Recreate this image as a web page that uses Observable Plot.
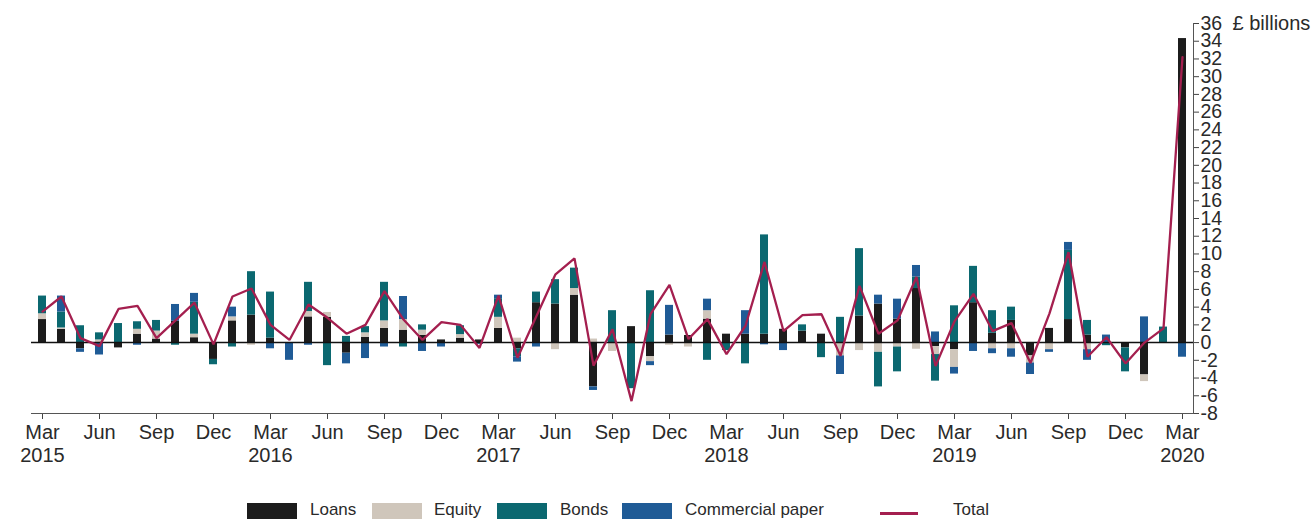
<!DOCTYPE html>
<html>
<head>
<meta charset="utf-8">
<script src="https://cdn.jsdelivr.net/npm/d3@7"></script>
<script src="https://cdn.jsdelivr.net/npm/@observablehq/plot@0.6"></script>
<style>
  html, body { margin: 0; padding: 0; background: #fff; }
  #wrap { position: relative; width: 1313px; height: 519px; overflow: hidden; font-family: "Liberation Sans", Arial, sans-serif; color: #2a2a2a; }
  #chart { position: absolute; left: 0; top: 0; }
  .lg { position: absolute; }
  .sw { width: 50px; height: 16px; top: 503px; }
  .lt { font-size: 17px; line-height: 17px; top: 501px; }
  .ln { height: 2.5px; width: 38px; top: 512px; }
</style>
</head>
<body>
<div id="wrap">
  <div id="chart"></div>
</div>
<script>
const months = [
  "2015-03","2015-04","2015-05","2015-06","2015-07","2015-08","2015-09","2015-10","2015-11","2015-12",
  "2016-01","2016-02","2016-03","2016-04","2016-05","2016-06","2016-07","2016-08","2016-09","2016-10","2016-11","2016-12",
  "2017-01","2017-02","2017-03","2017-04","2017-05","2017-06","2017-07","2017-08","2017-09","2017-10","2017-11","2017-12",
  "2018-01","2018-02","2018-03","2018-04","2018-05","2018-06","2018-07","2018-08","2018-09","2018-10","2018-11","2018-12",
  "2019-01","2019-02","2019-03","2019-04","2019-05","2019-06","2019-07","2019-08","2019-09","2019-10","2019-11","2019-12",
  "2020-01","2020-02","2020-03"
];

const loans = [
  2.6, 1.5, -0.7, 0, -0.6, 0.95, 0.4, 2.4, 0.55, -1.9,
  2.45, 3.1, 0.5, 0, 2.9, 2.85, -1.2, 0.6, 1.6, 1.4, 0.8, 0.3,
  0.5, 0.3, 1.6, -0.7, 4.5, 4.35, 5.35, -5.0, 0, 1.8, -1.6, 0.85,
  0.8, 2.65, 0.95, 0.95, 0.95, 1.5, 1.3, 0.95, 0, 3.0, 4.35, 2.65,
  6.1, -0.45, -0.8, 4.5, 1.05, 2.5, -1.5, 1.6, 2.6, 0.85, 0, -0.6,
  -3.65, 0, 34.3
];
const equity = [
  0.65, 0.15, 0, 0.3, 0, 0.55, 0.9, 0, 0.4, 0,
  0.45, -0.3, 0, 0, 0.6, 0.55, 0, 0.5, 0.85, 1.2, 0.6, 0,
  0.4, 0, 1.25, 0.5, 0, -0.8, 0.75, 0.4, -1.0, 0, -0.55, -0.3,
  -0.5, 0.95, 0, 0, 0, 0, 0, 0, -1.5, -0.9, -1.1, -0.5,
  -0.75, -0.9, -2.0, 0, -0.7, -0.7, -0.8, -0.8, 0, -0.8, 0, 0,
  -0.75, 0, 0
];
const bonds = [
  2.0, 1.8, 1.9, 0.8, 2.15, 0.85, 1.2, -0.3, 3.6, -0.6,
  -0.5, 4.9, 5.2, 0, 3.3, -2.6, 0.7, 0.7, 4.35, -0.5, 0.6, 0,
  1.0, 0, 2.1, -0.9, 1.2, 2.75, 2.3, 0, 3.6, -5.2, 5.85, 0,
  0, -2.0, -0.9, -2.4, 11.2, 0, 0.7, -1.7, 2.85, 7.6, -3.9, -2.8,
  1.3, -3.0, 4.15, 4.1, 2.55, 1.5, 0, 0, 7.8, 1.65, -0.35, -2.7,
  0, 1.75, 0
];
const commercialPaper = [
  0, 1.8, -0.4, -1.4, 0, -0.3, 0, 1.9, 1.0, 0,
  1.1, 0, -0.7, -2.0, -0.3, 0, -1.2, -1.8, -0.5, 2.6, -1.0, -0.5,
  0, -0.2, 0.4, -0.6, -0.5, 0, 0, -0.4, 0, 0, -0.45, 3.35,
  0, 1.3, 0, 2.65, -0.25, -0.9, 0, 0, -2.1, 0, 1.0, 2.25,
  1.3, 1.2, -0.75, -1.0, -0.55, -0.95, -1.3, -0.3, 0.9, -1.2, 0.85, 0,
  2.9, 0, -1.65
];
const total = [
  3.5, 5.2, 0.5, -0.4, 3.8, 4.15, 0.5, 2.5, 4.5, -0.2,
  5.2, 6.1, 2.0, 0.3, 4.3, 2.8, 1.0, 2.0, 5.8, 2.6, 0.3, 2.3,
  2.0, -0.6, 5.3, -1.7, 3.0, 7.7, 9.5, -2.6, 1.5, -6.6, 3.2, 6.5,
  0.4, 2.65, -1.3, 1.9, 9.1, 1.3, 3.1, 3.2, -1.5, 6.4, 1.0, 2.5,
  7.4, -2.65, 2.4, 5.5, 1.3, 2.2, -2.3, 3.3, 10.2, -1.6, 0.6, -2.35,
  0.0, 1.6, 32.2
];

const seriesNames = ["Loans", "Equity", "Bonds", "Commercial paper"];
const seriesColors = ["#1c1c1c", "#cfc6bb", "#0b6870", "#1f5b96"];
const totalColor = "#a41f4f";

const xTicks = ["2015-03","2015-06","2015-09","2015-12","2016-03","2016-06","2016-09","2016-12",
  "2017-03","2017-06","2017-09","2017-12","2018-03","2018-06","2018-09","2018-12",
  "2019-03","2019-06","2019-09","2019-12","2020-03"];
const xTickLabels = ["Mar\n2015","Jun","Sep","Dec","Mar\n2016","Jun","Sep","Dec",
  "Mar\n2017","Jun","Sep","Dec","Mar\n2018","Jun","Sep","Dec",
  "Mar\n2019","Jun","Sep","Dec","Mar\n2020"];
const yTicks = [-8,-6,-4,-2,0,2,4,6,8,10,12,14,16,18,20,22,24,26,28,30,32,34,36];

const seriesValues = [loans, equity, bonds, commercialPaper];
const stacked = months.flatMap((m, i) =>
  seriesNames.map((name, k) => ({month: m, type: name, value: seriesValues[k][i]})));
const totals = months.map((m, i) => ({month: m, total: total[i]}));
const labelOf = new Map(xTicks.map((t, i) => [t, xTickLabels[i]]));

const chart = Plot.plot({
  width: 1313,
  height: 482,
  marginLeft: 31,
  marginRight: 120,
  marginTop: 23,
  marginBottom: 69,
  style: {fontFamily: "'Liberation Sans', Arial, sans-serif", fontSize: "20px", color: "#2a2a2a", background: "white", overflow: "visible"},
  x: {type: "band", domain: months, paddingInner: 0.58, paddingOuter: 0, align: 0.5, label: null},
  y: {domain: [-8, 36], label: null},
  color: {domain: seriesNames, range: seriesColors},
  marks: [
    Plot.barY(stacked, {x: "month", y: "value", fill: "type"}),
    Plot.ruleY([0], {stroke: "#111", strokeWidth: 1.5}),
    Plot.lineY(totals, {x: "month", y: "total", stroke: totalColor, strokeWidth: 2.3, strokeLinejoin: "miter"}),
    Plot.axisX({ticks: xTicks, tickFormat: (d) => labelOf.get(d), tickSize: 6, tickPadding: 4, fontSize: 20, lineHeight: 1.12, stroke: "#444"}),
    Plot.axisY({anchor: "right", ticks: yTicks, tickFormat: (d) => String(d), tickSize: 5, tickPadding: 2, fontSize: 19.5, stroke: "#444"}),
    Plot.frame({anchor: "bottom", stroke: "#555"}),
    Plot.frame({anchor: "right", stroke: "#555"}),
    Plot.text(["£ billions"], {frameAnchor: "top-right", dx: 39, dy: 0, textAnchor: "start", lineAnchor: "middle", fontSize: 20})
  ]
});
document.getElementById("chart").appendChild(chart);

// Legend (HTML, below the SVG)
const wrap = document.getElementById("wrap");
const legendX = [[247, 310], [372, 434], [497, 560], [622, 685]];
seriesNames.forEach((name, k) => {
  const sw = document.createElement("div");
  sw.className = "lg sw";
  sw.style.left = legendX[k][0] + "px";
  sw.style.background = seriesColors[k];
  wrap.appendChild(sw);
  const t = document.createElement("div");
  t.className = "lg lt";
  t.style.left = legendX[k][1] + "px";
  t.textContent = name;
  wrap.appendChild(t);
});
const ln = document.createElement("div");
ln.className = "lg ln";
ln.style.left = "880px";
ln.style.background = totalColor;
wrap.appendChild(ln);
const tt = document.createElement("div");
tt.className = "lg lt";
tt.style.left = "953px";
tt.textContent = "Total";
wrap.appendChild(tt);
</script>
</body>
</html>
